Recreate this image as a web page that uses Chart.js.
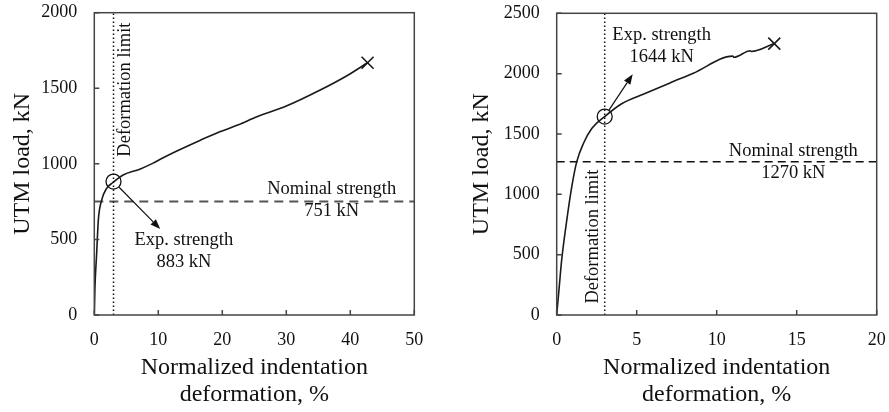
<!DOCTYPE html>
<html>
<head>
<meta charset="utf-8">
<script src="https://cdn.jsdelivr.net/npm/chart.js@4.4.0/dist/chart.umd.min.js"></script>
<style>
  html, body { margin: 0; padding: 0; background: #fff; }
  #boxA { position: absolute; left: 0; top: 0; width: 444px; height: 412px; }
  #boxB { position: absolute; left: 444px; top: 0; width: 445px; height: 412px; }
</style>
</head>
<body>
<div id="boxA"><canvas id="chartA"></canvas></div>
<div id="boxB"><canvas id="chartB"></canvas></div>
<script>
// DATA

// left specimen: normalized indentation deformation (%) vs UTM load (kN)
const defA  = [0, 0.1, 0.37, 0.63, 1.15, 1.93, 2.87, 4.5, 7.1, 9.2, 10.3, 12.9, 16.5, 19.6, 22.5, 25.4, 30, 35.3, 39.4, 42.7];
const loadA = [0, 180, 408, 628, 760, 838, 875, 926, 965, 1005, 1030, 1085, 1155, 1212, 1258, 1312, 1382, 1488, 1581, 1669];

// right specimen
const defB  = [0, 0.15, 0.31, 0.63, 0.94, 1.25, 1.67, 2.19, 3, 4.06, 5.52, 7.08, 8.54, 11.0, 11.08, 12.1, 12.16, 13.6];
const loadB = [0, 220, 455, 786, 1062, 1269, 1421, 1545, 1644, 1750, 1835, 1923, 2003, 2145, 2136, 2190, 2183, 2249];

const deformationLimit = 3;              // %
const nominalA = 751, nominalB = 1270;   // kN
const expA = 883, expB = 1644;           // kN

const xRangeA = [0, 50], xStepA = 10;
const yRangeA = [0, 2000], yStepA = 500;
const xRangeB = [0, 20], xStepB = 5;
const yRangeB = [0, 2500], yStepB = 500;

const SERIF = '"Liberation Serif", "Times New Roman", serif';

// PLUGIN: frame, inward ticks, arrows and labels
const marks = {
  id: 'marks',
  afterDatasetsDraw(chart, args, o) {
    const { ctx, chartArea: a, scales: { x, y } } = chart;
    ctx.save();

    // frame
    ctx.strokeStyle = '#444';
    ctx.lineWidth = 1.5;
    ctx.strokeRect(a.left, a.top, a.right - a.left, a.bottom - a.top);

    // inward tick marks
    ctx.beginPath();
    x.ticks.forEach(t => {
      const px = x.getPixelForValue(t.value);
      ctx.moveTo(px, a.bottom); ctx.lineTo(px, a.bottom - 5);
    });
    y.ticks.forEach(t => {
      const py = y.getPixelForValue(t.value);
      ctx.moveTo(a.left, py); ctx.lineTo(a.left + 5, py);
    });
    ctx.stroke();

    // arrow from the circle to the label
    const cx = x.getPixelForValue(o.arrow.from[0]), cy = y.getPixelForValue(o.arrow.from[1]);
    const ex = x.getPixelForValue(o.arrow.to[0]), ey = y.getPixelForValue(o.arrow.to[1]);
    const len = Math.hypot(ex - cx, ey - cy);
    const ux = (ex - cx) / len, uy = (ey - cy) / len;
    const sx = cx + ux * 8, sy = cy + uy * 8;
    const head = 10, half = 3.8;
    ctx.strokeStyle = '#111';
    ctx.fillStyle = '#111';
    ctx.lineWidth = 1.2;
    ctx.beginPath();
    ctx.moveTo(sx, sy);
    ctx.lineTo(ex - ux * head, ey - uy * head);
    ctx.stroke();
    ctx.beginPath();
    ctx.moveTo(ex, ey);
    ctx.lineTo(ex - ux * head - uy * half, ey - uy * head + ux * half);
    ctx.lineTo(ex - ux * head + uy * half, ey - uy * head - ux * half);
    ctx.closePath();
    ctx.fill();

    // labels
    ctx.font = '18.5px ' + SERIF;
    ctx.textAlign = 'center';
    ctx.textBaseline = 'middle';
    o.labels.forEach(l => {
      const px = x.getPixelForValue(l.x), py = y.getPixelForValue(l.y);
      ctx.save();
      ctx.translate(px, py);
      if (l.rot) ctx.rotate(-Math.PI / 2);
      ctx.fillText(l.text, 0, 0);
      ctx.restore();
    });

    ctx.restore();
  }
};

function pts(xs, ys) {
  return xs.map((v, i) => ({ x: v, y: ys[i] }));
}

function makeChart(id, d) {
  const xs = d.def, ys = d.load;
  const last = xs.length - 1;
  return new Chart(document.getElementById(id), {
    type: 'scatter',
    data: {
      datasets: [
        {
          data: pts(xs, ys),
          showLine: true,
          borderColor: '#1a1a1a',
          borderWidth: 1.6,
          pointRadius: 0,
          cubicInterpolationMode: 'monotone'
        },
        {
          data: [{ x: xs[last], y: ys[last] }],
          pointStyle: 'crossRot',
          pointRadius: 8.5,
          borderColor: '#1a1a1a',
          borderWidth: 1.6
        },
        {
          data: [{ x: deformationLimit, y: d.exp }],
          pointStyle: 'circle',
          pointRadius: 7.5,
          borderColor: '#111',
          backgroundColor: 'rgba(0,0,0,0)',
          borderWidth: 1.3
        },
        {
          data: [{ x: deformationLimit, y: d.yRange[0] }, { x: deformationLimit, y: d.yRange[1] }],
          showLine: true,
          borderColor: '#111',
          borderWidth: 1.5,
          borderDash: [1.5, 2.5],
          pointRadius: 0
        },
        {
          data: [{ x: d.xRange[0], y: d.nominal }, { x: d.xRange[1], y: d.nominal }],
          showLine: true,
          borderColor: d.dashColor,
          borderWidth: d.dashWidth,
          borderDash: d.dash,
          pointRadius: 0
        }
      ]
    },
    options: {
      responsive: true,
      maintainAspectRatio: false,
      animation: false,
      layout: { padding: d.padding },
      plugins: {
        legend: { display: false },
        tooltip: { enabled: false },
        marks: { arrow: d.arrow, labels: d.labels }
      },
      scales: {
        x: {
          type: 'linear',
          min: d.xRange[0], max: d.xRange[1],
          grid: { display: false, drawTicks: false },
          border: { display: false },
          ticks: {
            stepSize: d.xStep, color: '#111', padding: 14,
            font: { family: SERIF, size: 18 },
            callback: v => String(v)
          },
          title: {
            display: true,
            text: ['Normalized indentation', 'deformation, %'],
            color: '#111',
            font: { family: SERIF, size: 24, lineHeight: 1.12 },
            padding: { top: 0, bottom: 4 }
          },
          afterFit: s => { s.height = 97; s.paddingLeft = 0; s.paddingRight = 0; }
        },
        y: {
          type: 'linear',
          min: d.yRange[0], max: d.yRange[1],
          grid: { display: false, drawTicks: false },
          border: { display: false },
          ticks: {
            stepSize: d.yStep, color: '#111', padding: 17,
            font: { family: SERIF, size: 18 },
            callback: v => String(v)
          },
          title: {
            display: true,
            text: 'UTM load, kN',
            color: '#111',
            font: { family: SERIF, size: 24, lineHeight: 1.2 },
            padding: { top: d.yTitlePad, bottom: 0 }
          },
          afterFit: s => { s.width = d.yWidth; s.paddingTop = 0; s.paddingBottom = 0; }
        }
      }
    },
    plugins: [marks]
  });
}

makeChart('chartA', {
  def: defA, load: loadA, exp: expA, nominal: nominalA,
  xRange: xRangeA, xStep: xStepA, yRange: yRangeA, yStep: yStepA,
  dashColor: '#555', dashWidth: 2, dash: [9, 6],
  padding: { top: 12.7, right: 29.7, left: 0, bottom: 0 },
  yWidth: 94.3, yTitlePad: 8.6,
  arrow: { from: [deformationLimit, expA], to: [10.3, 569] },
  labels: [
    { text: 'Deformation limit', x: 4.8, y: 1491, rot: true },
    { text: 'Nominal strength', x: 37.1, y: 833 },
    { text: nominalA + ' kN', x: 37.1, y: 688 },
    { text: 'Exp. strength', x: 14.0, y: 496 },
    { text: expA + ' kN', x: 14.0, y: 351 }
  ]
});

makeChart('chartB', {
  def: defB, load: loadB, exp: expB, nominal: nominalB,
  xRange: xRangeB, xStep: xStepB, yRange: yRangeB, yStep: yStepB,
  dashColor: '#111', dashWidth: 1.5, dash: [8, 5],
  padding: { top: 13.3, right: 12.3, left: 0, bottom: 0 },
  yWidth: 112.7, yTitlePad: 23.6,
  arrow: { from: [deformationLimit, expB], to: [4.75, 1995] },
  labels: [
    { text: 'Deformation limit', x: 2.27, y: 650, rot: true },
    { text: 'Exp. strength', x: 6.56, y: 2318 },
    { text: expB + ' kN', x: 6.56, y: 2138 },
    { text: 'Nominal strength', x: 14.79, y: 1360 },
    { text: nominalB + ' kN', x: 14.79, y: 1178 }
  ]
});
</script>
</body>
</html>
